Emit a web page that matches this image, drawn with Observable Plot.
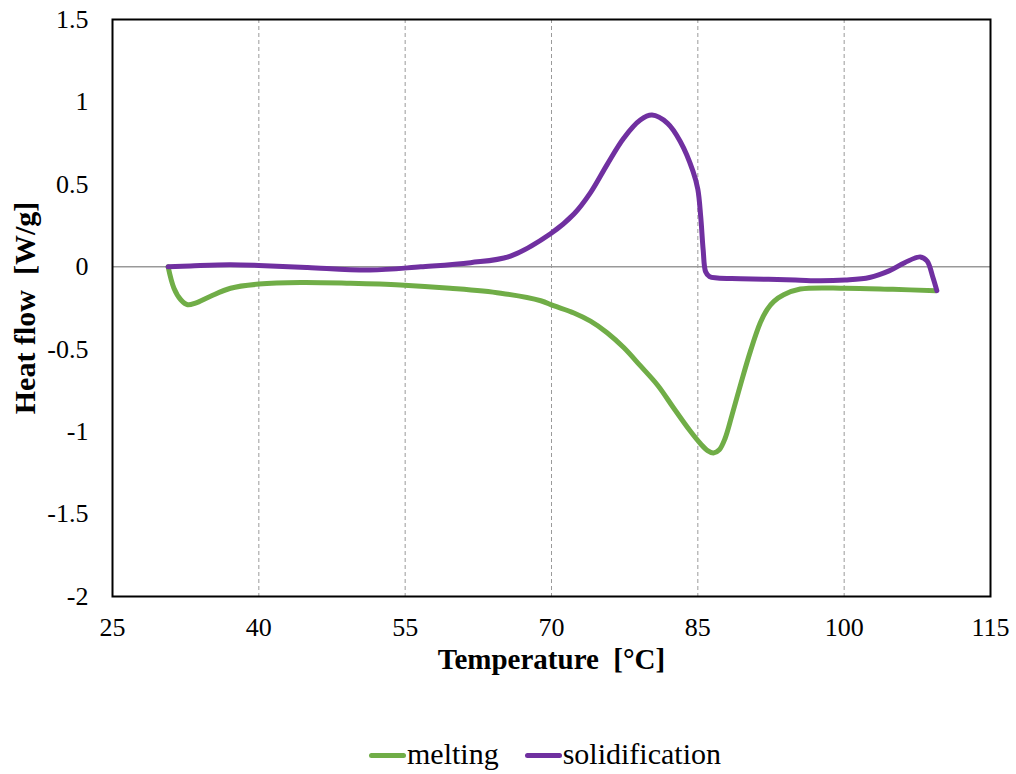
<!DOCTYPE html>
<html>
<head>
<meta charset="utf-8">
<script src="https://cdn.jsdelivr.net/npm/d3@7"></script>
<script src="https://cdn.jsdelivr.net/npm/@observablehq/plot@0.6"></script>
<style>
  html, body { margin: 0; padding: 0; background: #fff; }
  #wrap { position: relative; width: 1016px; height: 774px; }
  #legend { position: absolute; top: 737px; left: 74px; width: 942px; display: flex; justify-content: center; gap: 26px;
    font-family: "Liberation Serif", "Times New Roman", serif; font-size: 30px; color: #000; }
  .item { display: flex; align-items: center; }
  .sw { display: inline-block; width: 37px; height: 5px; border-radius: 3px; margin-right: 1px; margin-top: 2px; }
</style>
</head>
<body>
<div id="wrap">
  <div id="chart"></div>
  <div id="legend"></div>
</div>
<script>
// Tick values
const xTicks = [25, 40, 55, 70, 85, 100, 115];
const xGrid = [40, 55, 70, 85, 100];
const yTicks = [-2, -1.5, -1, -0.5, 0, 0.5, 1, 1.5];

// Series names & colours
const seriesNames = ["melting", "solidification"];
const seriesColors = ["#70AD47", "#7030A0"];

// Melting curve
const meltT = [30.7, 31.3, 32.0, 32.7, 33.5, 35, 37.1, 40, 44.3, 49.4, 54.5, 59.6, 64.8, 68.9, 70.2, 72.3, 74.0, 75.7, 77.4, 79.1, 80.9, 82.5, 84.2, 85.3, 86.0, 86.6, 87.2, 87.8, 88.5, 89.4, 90.4, 91.4, 92.1, 92.8, 93.8, 95.5, 100.1, 105, 109.4];
const meltQ = [0, -0.13, -0.2, -0.23, -0.22, -0.18, -0.13, -0.105, -0.095, -0.1, -0.11, -0.13, -0.16, -0.206, -0.236, -0.28, -0.33, -0.40, -0.49, -0.60, -0.72, -0.855, -0.995, -1.075, -1.115, -1.13, -1.11, -1.04, -0.9, -0.71, -0.51, -0.34, -0.26, -0.21, -0.17, -0.135, -0.13, -0.137, -0.145];

// Solidification curve
const solT = [30.7, 33, 37, 40, 45, 51.4, 56.6, 61.7, 65.8, 69.9, 72.3, 74.0, 75.7, 77.4, 79.1, 80.3, 81.9, 83.2, 84.5, 85.0, 85.3, 85.55, 85.8, 86.2, 87.0, 89.4, 95, 97.6, 100.1, 102.6, 104.6, 106.2, 107.8, 108.5, 109.1, 109.5];
const solQ = [0, 0.005, 0.012, 0.008, -0.005, -0.02, 0, 0.025, 0.065, 0.2, 0.32, 0.45, 0.62, 0.78, 0.89, 0.92, 0.87, 0.76, 0.58, 0.47, 0.3, 0.1, -0.03, -0.06, -0.068, -0.072, -0.08, -0.085, -0.08, -0.065, -0.025, 0.025, 0.06, 0.035, -0.065, -0.145];

const melting = meltT.map((t, i) => ({t, q: meltQ[i]}));
const solid = solT.map((t, i) => ({t, q: solQ[i]}));

const font = "'Liberation Serif', 'Times New Roman', serif";

const chart = Plot.plot({
  width: 1016,
  height: 700,
  marginLeft: 112,
  marginRight: 26,
  marginTop: 19,
  marginBottom: 104,
  x: {domain: [25, 115]},
  y: {domain: [-2, 1.5]},
  style: {fontFamily: font, fontSize: "26px", color: "#000", background: "#fff", overflow: "visible"},
  marks: [
    Plot.ruleX(xGrid, {stroke: "#9a9a9a", strokeWidth: 1, strokeDasharray: "4,3"}),
    Plot.ruleY([0], {stroke: "#999", strokeWidth: 1.5}),
    Plot.line(melting, {x: "t", y: "q", stroke: seriesColors[0], strokeWidth: 5, curve: "catmull-rom", strokeLinecap: "round", strokeLinejoin: "round"}),
    Plot.line(solid, {x: "t", y: "q", stroke: seriesColors[1], strokeWidth: 5, curve: "catmull-rom", strokeLinecap: "round", strokeLinejoin: "round"}),
    Plot.frame({stroke: "#000", strokeWidth: 2}),
    Plot.axisX(xTicks, {tickSize: 0, tickPadding: 21, label: null, fontSize: 26, tickFormat: d => String(d)}),
    Plot.axisY(yTicks, {tickSize: 0, tickPadding: 24, label: null, fontSize: 26, tickFormat: d => String(d)}),
    Plot.text(["Temperature  [°C]"], {frameAnchor: "bottom", dy: 72, fontSize: 29, fontWeight: "bold", fill: "#000"}),
    Plot.text(["Heat flow  [W/g]"], {frameAnchor: "left", dx: -87, rotate: -90, textAnchor: "middle", fontSize: 30, fontWeight: "bold", fill: "#000"})
  ]
});
document.getElementById("chart").appendChild(chart);

const legend = document.getElementById("legend");
seriesNames.forEach((name, i) => {
  const item = document.createElement("div");
  item.className = "item";
  const sw = document.createElement("span");
  sw.className = "sw";
  sw.style.background = seriesColors[i];
  const label = document.createElement("span");
  label.textContent = name;
  item.appendChild(sw);
  item.appendChild(label);
  legend.appendChild(item);
});
</script>
</body>
</html>
